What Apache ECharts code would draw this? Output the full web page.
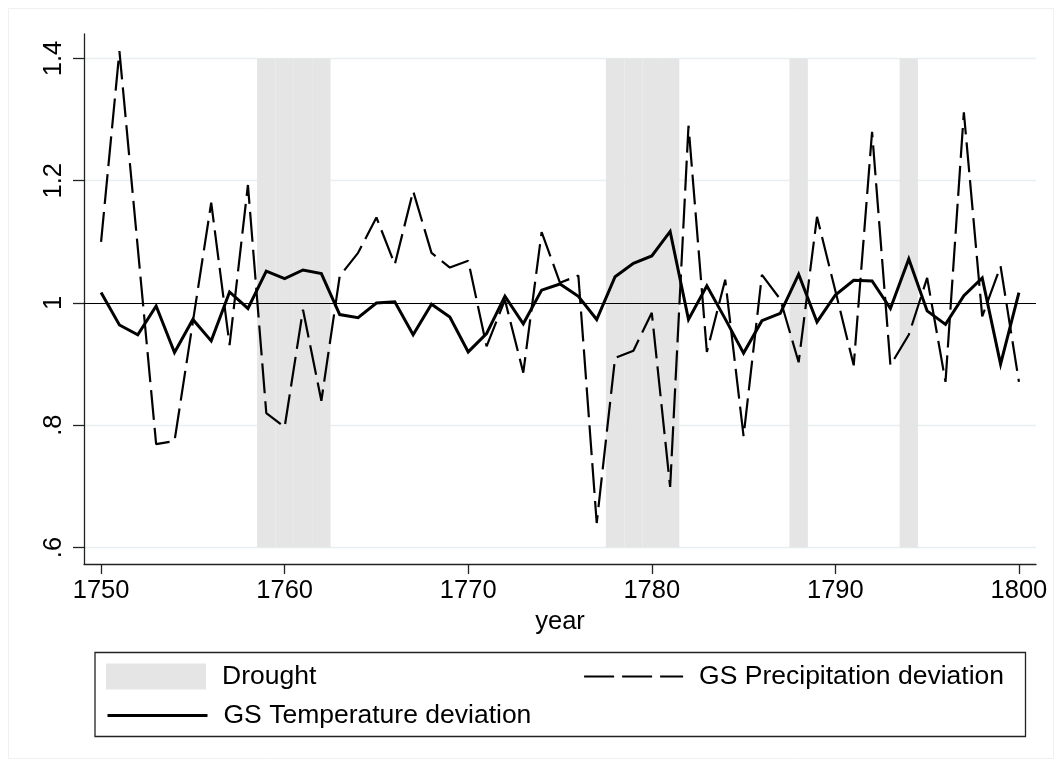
<!DOCTYPE html>
<html><head><meta charset="utf-8">
<script src="https://cdn.jsdelivr.net/npm/echarts@6/dist/echarts.min.js"></script>
<style>html,body{margin:0;padding:0;background:#fff}#c{width:1062px;height:767px}</style>
</head><body><div id="c"></div>
<script>
const years = [1750,1751,1752,1753,1754,1755,1756,1757,1758,1759,
  1760,1761,1762,1763,1764,1765,1766,1767,1768,1769,
  1770,1771,1772,1773,1774,1775,1776,1777,1778,1779,
  1780,1781,1782,1783,1784,1785,1786,1787,1788,1789,
  1790,1791,1792,1793,1794,1795,1796,1797,1798,1799,1800];
const temperature = [1.017,0.964,0.948,0.995,0.919,0.973,0.938,1.018,0.991,1.052,
  1.040,1.054,1.048,0.981,0.976,1.000,1.002,0.948,0.998,0.977,
  0.920,0.950,1.011,0.966,1.021,1.031,1.011,0.973,1.043,1.065,
  1.077,1.117,0.973,1.028,0.974,0.918,0.971,0.983,1.047,0.969,
  1.013,1.037,1.036,0.991,1.072,0.987,0.965,1.012,1.041,0.900,1.017];
const precipitation = [1.100,1.412,1.090,0.769,0.774,0.969,1.164,0.931,1.193,0.820,
  0.797,0.989,0.840,1.044,1.082,1.140,1.063,1.183,1.082,1.058,
  1.069,0.929,1.005,0.886,1.116,1.033,1.045,0.640,0.910,0.922,
  0.984,0.699,1.290,0.920,1.038,0.782,1.046,1.006,0.903,1.141,
  1.020,0.898,1.280,0.898,0.948,1.041,0.871,1.312,0.978,1.060,0.871];
const droughtYears = [1759,1760,1761,1762,1778,1779,1780,1781,1788,1794];
const xTicks = [1750,1760,1770,1780,1790,1800];
const yTicks = [0.6,0.8,1,1.2,1.4];

const FONT = '"Liberation Sans", Arial, Helvetica, sans-serif';
const BAND_LO = 0.6, BAND_HI = 1.4;
const DASH = [30, 8];
const HIDDEN_SYMBOL = {opacity: 0, color: 'transparent', borderWidth: 0};
const LEG_TEXT = {fontSize: 26.5, color: '#000', fontFamily: FONT, padding: [0, 0, 0, 11]};

const chart = echarts.init(document.getElementById('c'), null, {renderer: 'canvas'});
chart.setOption({
  animation: false,
  backgroundColor: '#fff',
  grid: {left: 84, right: 26, top: 34, bottom: 203},
  xAxis: {
    type: 'value', min: 1749.07, max: 1800.93,
    name: 'year', nameLocation: 'middle', nameGap: 42,
    nameTextStyle: {fontSize: 25.5, color: '#000', fontFamily: FONT},
    axisLine: {show: true, onZero: false, lineStyle: {color: '#222', width: 1.3}},
    axisTick: {show: true, customValues: xTicks, length: 10, lineStyle: {color: '#222', width: 1.3}},
    axisLabel: {customValues: xTicks, fontSize: 25.5, color: '#000', fontFamily: FONT, margin: 14,
      formatter: v => String(Math.round(v))},
    splitLine: {show: false}
  },
  yAxis: {
    type: 'value', min: 0.573, max: 1.44,
    axisLine: {show: true, lineStyle: {color: '#222', width: 1.3}},
    axisTick: {show: true, customValues: yTicks, length: 11, lineStyle: {color: '#222', width: 1.3}},
    axisLabel: {customValues: yTicks, rotate: 90, fontSize: 25.5, color: '#000', fontFamily: FONT, margin: 17,
      formatter: v => String(+v.toFixed(2)).replace(/^0\./, '.')},
    splitLine: {show: true, lineStyle: {color: '#e8eff1', width: 1.3}}
  },
  legend: [
    {data: [{name: 'Drought', icon: 'rect', itemStyle: {color: '#e5e5e5'}}],
     left: 106, top: 663, itemWidth: 100, itemHeight: 26, padding: 0, selectedMode: false,
     textStyle: LEG_TEXT},
    {data: [{name: 'GS Precipitation deviation', itemStyle: HIDDEN_SYMBOL,
             lineStyle: {color: '#000', width: 2.2, type: DASH}}],
     left: 583, top: 663, itemWidth: 99, itemHeight: 26, padding: 0, selectedMode: false,
     textStyle: LEG_TEXT},
    {data: [{name: 'GS Temperature deviation', itemStyle: HIDDEN_SYMBOL,
             lineStyle: {color: '#000', width: 3}}],
     left: 106, top: 702, itemWidth: 100, itemHeight: 26, padding: 0, selectedMode: false,
     textStyle: LEG_TEXT}
  ],
  graphic: [
    {type: 'rect', shape: {x: 95, y: 652.5, width: 930.5, height: 84}, z: 100,
     style: {fill: 'none', stroke: '#222', lineWidth: 1.3}, silent: true},
    {type: 'rect', shape: {x: 8.5, y: 8.5, width: 1045, height: 750}, z: -10,
     style: {fill: 'none', stroke: '#edf1f3', lineWidth: 1}, silent: true}
  ],
  series: [
    {
      type: 'custom', name: 'Drought', silent: true, z: 1,
      data: droughtYears.map(y => [y, 1]),
      encode: {x: 0, y: 1},
      renderItem: (params, api) => {
        const yr = api.value(0);
        const p0 = api.coord([yr - 0.5, BAND_HI]);
        const p1 = api.coord([yr + 0.5, BAND_LO]);
        return {type: 'rect', shape: {x: p0[0], y: p0[1], width: p1[0] - p0[0], height: p1[1] - p0[1]},
                style: {fill: '#e5e5e5'}};
      }
    },
    {
      type: 'line', name: 'GS Precipitation deviation', z: 3,
      data: years.map((y, i) => [y, precipitation[i]]),
      symbol: 'none', lineStyle: {color: '#000', width: 2.2, type: DASH}, itemStyle: {color: '#000'}
    },
    {
      type: 'line', name: 'GS Temperature deviation', z: 4,
      data: years.map((y, i) => [y, temperature[i]]),
      symbol: 'none', lineStyle: {color: '#000', width: 3, join: 'miter'}, itemStyle: {color: '#000'},
      markLine: {silent: true, symbol: 'none', label: {show: false},
        lineStyle: {color: '#000', width: 1, type: 'solid'}, data: [{yAxis: 1}]}
    }
  ]
});
</script></body></html>
